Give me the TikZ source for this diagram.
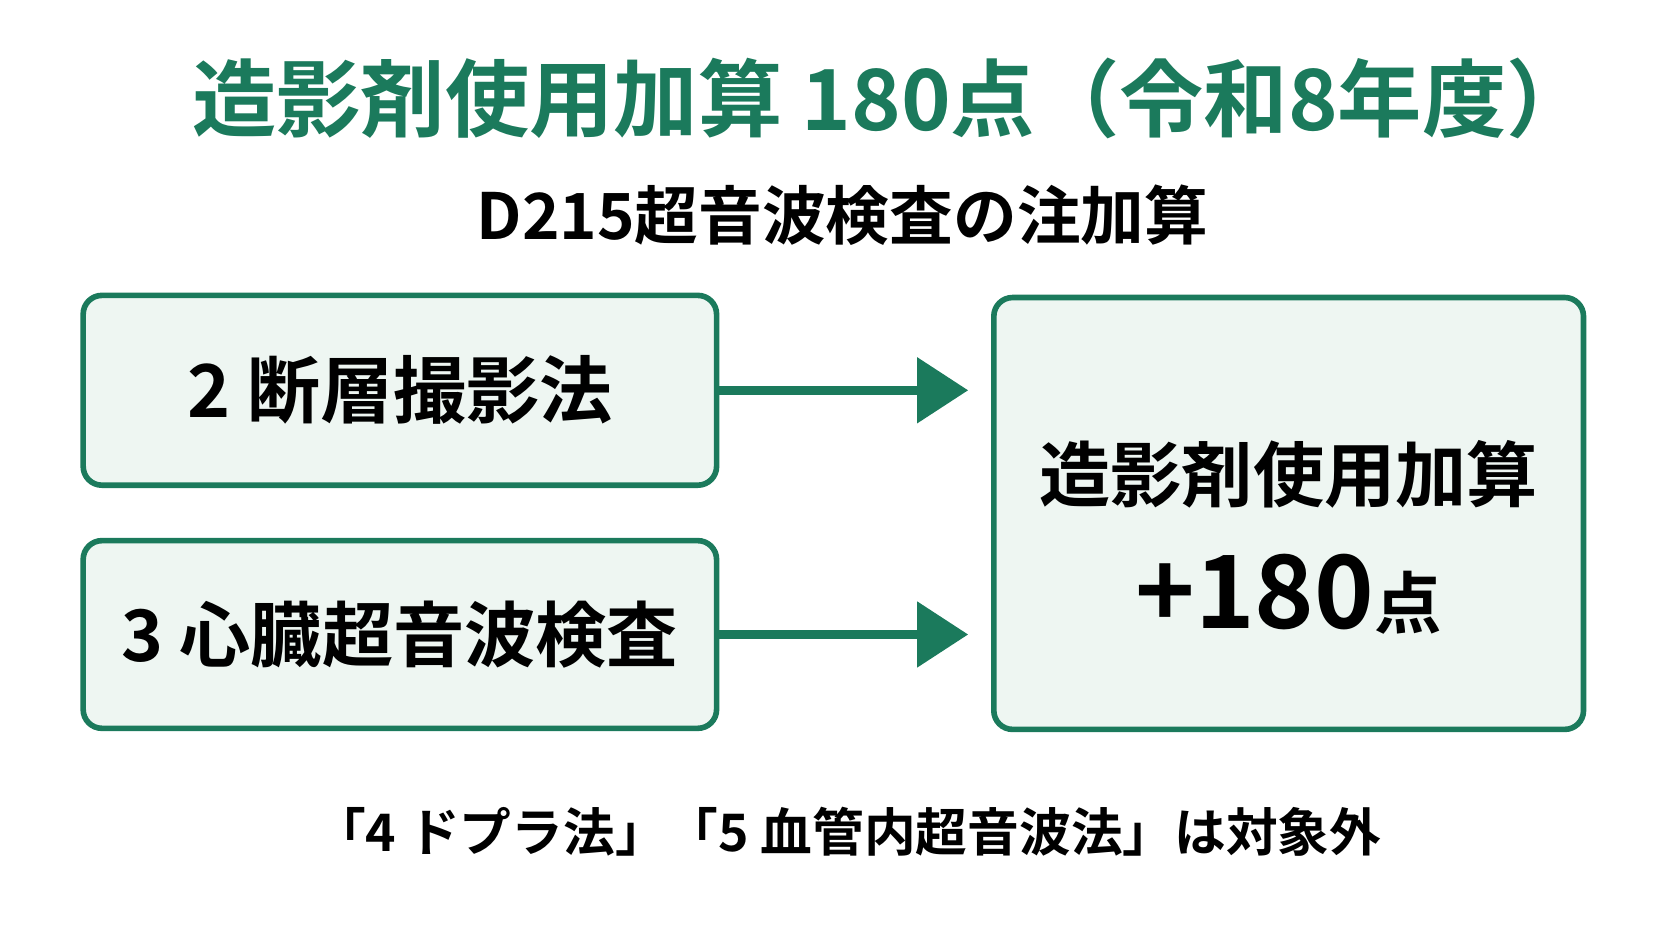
\documentclass[tikz,border=0pt]{standalone}
\usepackage{fontspec}
\setmainfont{Noto Sans CJK JP}[BoldFont={Noto Sans CJK JP Bold}]
\usetikzlibrary{arrows.meta,positioning}
\definecolor{kgreen}{HTML}{1B7A5C}
\definecolor{kfill}{HTML}{EEF6F2}
\tikzset{
  box/.style={draw=kgreen,fill=kfill,line width=1.5pt,rounded corners=5pt},
  flow/.style={kgreen,line width=2.4pt,-{Triangle[length=0.48cm,width=0.6cm]}}
}
\begin{document}
\begin{tikzpicture}
  \useasboundingbox (0,0) rectangle (15.68,-8.82);
  \node[kgreen,font=\bfseries\fontsize{22.5pt}{26pt}\selectfont] (title) at (8.36,-0.92) {造影剤使用加算 180点（令和8年度）};
  \node[font=\bfseries\fontsize{17pt}{20pt}\selectfont] (sub) at (7.9,-2.02) {D215超音波検査の注加算};
  \node[box,minimum width=5.94cm,minimum height=1.78cm] (tomo) at (3.75,-3.66) {};
  \node[font=\bfseries\fontsize{19.5pt}{23pt}\selectfont] at (tomo) {2 断層撮影法};
  \node[box,minimum width=5.94cm,minimum height=1.76cm] (heart) at (3.75,-5.95) {};
  \node[font=\bfseries\fontsize{19pt}{23pt}\selectfont] at (heart) {3 心臓超音波検査};
  \node[box,minimum width=5.53cm,minimum height=4.05cm] (add) at (12.085,-4.815) {};
  \node[font=\bfseries\fontsize{19pt}{23pt}\selectfont] (addname) at (12.085,-4.45) {造影剤使用加算};
  \node[font=\bfseries] (addpts) at (12.085,-5.57) {\fontsize{27pt}{30pt}\selectfont +180\fontsize{18pt}{21pt}\selectfont 点};
  \coordinate (in1) at (9.08,-3.66);
  \coordinate (in2) at (9.08,-5.95);
  \draw[flow] (tomo.east) -- (in1);
  \draw[flow] (heart.east) -- (in2);
  \node[font=\bfseries\fontsize{13.8pt}{16pt}\selectfont] (note) at (7.95,-7.8) {「4 ドプラ法」「5 血管内超音波法」は対象外};
\end{tikzpicture}
\end{document}
